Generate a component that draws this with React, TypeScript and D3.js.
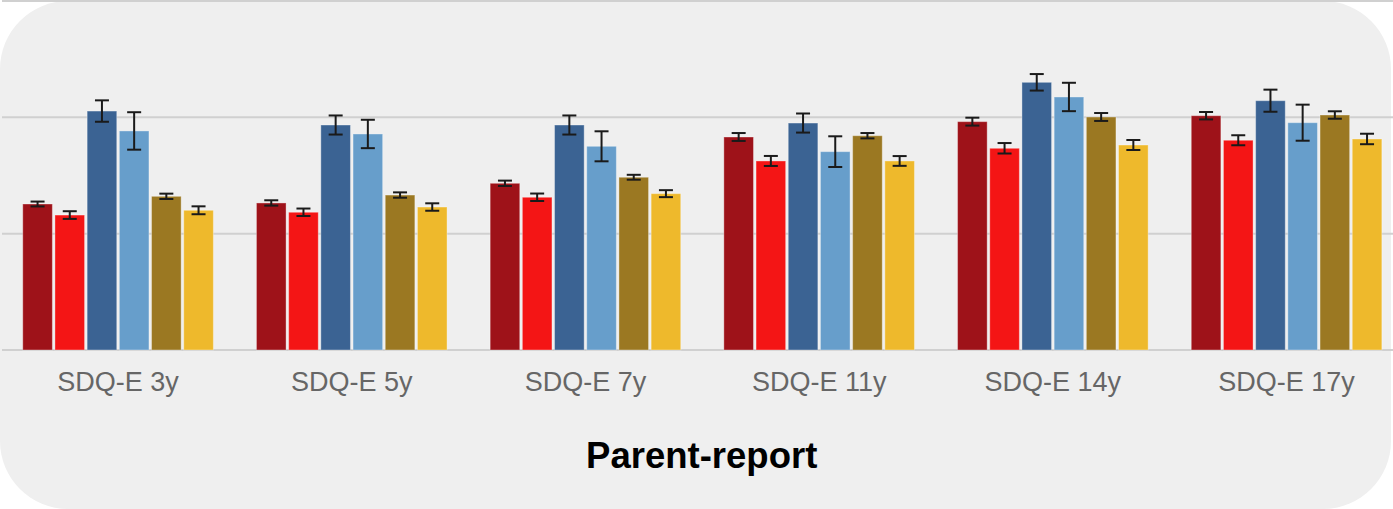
import * as d3 from 'd3';

const categories = ['SDQ-E 3y', 'SDQ-E 5y', 'SDQ-E 7y', 'SDQ-E 11y', 'SDQ-E 14y', 'SDQ-E 17y'];
const seriesKeys = ['s1', 's2', 's3', 's4', 's5', 's6'];
const seriesColors = ['#9e1219', '#f41515', '#3b6393', '#679ecb', '#9b7822', '#eeb92c'];

// mean per series, one entry per category
const s1 = [1.255, 1.264, 1.433, 1.831, 1.963, 2.014];
const s2 = [1.16, 1.184, 1.313, 1.625, 1.734, 1.803];
const s3 = [2.054, 1.934, 1.934, 1.951, 2.301, 2.143];
const s4 = [1.883, 1.857, 1.751, 1.705, 2.175, 1.954];
const s5 = [1.321, 1.332, 1.485, 1.842, 2.003, 2.02];
const s6 = [1.201, 1.229, 1.344, 1.625, 1.762, 1.814];

// half-width of the error bars
const e1 = [0.021, 0.023, 0.023, 0.034, 0.034, 0.032];
const e2 = [0.033, 0.032, 0.032, 0.043, 0.045, 0.043];
const e3 = [0.092, 0.082, 0.082, 0.082, 0.071, 0.095];
const e4 = [0.161, 0.122, 0.129, 0.132, 0.122, 0.155];
const e5 = [0.023, 0.023, 0.021, 0.023, 0.034, 0.032];
const e6 = [0.034, 0.032, 0.03, 0.042, 0.043, 0.045];

const gridTicks = [0, 1, 2, 3];
const xTitle = 'Parent-report';

const means = [s1, s2, s3, s4, s5, s6];
const errs = [e1, e2, e3, e4, e5, e6];

export default function App() {
  const width = 1393;
  const height = 509;

  const x = d3.scaleBand<string>().domain(categories).range([1.2, 1403.4]).padding(0);
  const groupW = 190.6;
  const xs = d3
    .scaleBand<string>()
    .domain(seriesKeys)
    .range([-groupW / 2, groupW / 2])
    .paddingInner(0.08)
    .paddingOuter(0);
  const y = d3.scaleLinear().domain([0, 3]).range([350, 1]);

  const bars = categories.flatMap((c, ci) =>
    seriesKeys.map((k, si) => ({
      cat: c,
      key: k,
      color: seriesColors[si],
      v: means[si][ci],
      e: errs[si][ci],
    }))
  );

  const cx = (c: string) => (x(c) ?? 0) + x.bandwidth() / 2;

  return (
    <svg
      width={width}
      height={height}
      style={{ position: 'absolute', left: 0, top: 0, display: 'block', background: '#fff' }}
    >
      <rect x={0} y={1} width={1391} height={508} rx={68} ry={68} fill="#efefef" />
      {gridTicks.map(t => (
        <line key={t} x1={2} x2={width} y1={y(t)} y2={y(t)} stroke="#d0d0d0" strokeWidth={2} />
      ))}
      {bars.map(b => {
        const bx = cx(b.cat) + (xs(b.key) ?? 0);
        return (
          <rect
            key={b.cat + b.key}
            x={bx}
            y={y(b.v)}
            width={xs.bandwidth()}
            height={y(0) - y(b.v)}
            fill={b.color}
            stroke="rgba(255,255,255,0.35)"
            strokeWidth={1}
          />
        );
      })}
      {bars.map(b => {
        const mx = cx(b.cat) + (xs(b.key) ?? 0) + xs.bandwidth() / 2;
        const top = y(b.v + b.e);
        const bot = y(b.v - b.e);
        return (
          <g key={'e' + b.cat + b.key} stroke="#1a1a1a" strokeWidth={2}>
            <line x1={mx} x2={mx} y1={top} y2={bot} />
            <line x1={mx - 7} x2={mx + 7} y1={top} y2={top} />
            <line x1={mx - 7} x2={mx + 7} y1={bot} y2={bot} />
          </g>
        );
      })}
      {categories.map(c => (
        <text
          key={c}
          x={cx(c)}
          y={391}
          textAnchor="middle"
          fontFamily="'Liberation Sans', Arial, sans-serif"
          fontSize={27}
          fill="#666"
        >
          {c}
        </text>
      ))}
      <text
        x={701.7}
        y={468}
        textAnchor="middle"
        fontFamily="'Liberation Sans', Arial, sans-serif"
        fontSize={36.5}
        fontWeight="bold"
        fill="#000"
      >
        {xTitle}
      </text>
    </svg>
  );
}
